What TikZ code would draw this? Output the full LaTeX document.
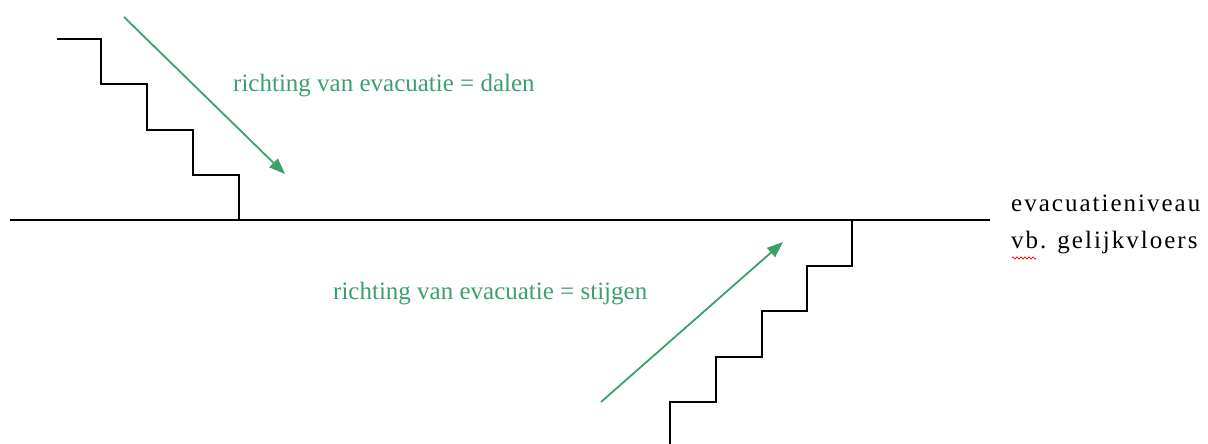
\documentclass[tikz,border=0pt]{standalone}
\usepackage{fontspec}
\setmainfont{Liberation Serif}
\newfontfamily\spacedfnt[LetterSpace=8]{Liberation Serif}
\usetikzlibrary{arrows.meta,decorations.pathmorphing}
\definecolor{evgreen}{RGB}{60,160,110}
\tikzset{
  stair/.style={line width=1.6pt,black,line join=miter},
  evarrow/.style={line width=1.8pt,evgreen,-{Triangle[length=16pt,width=12pt]}},
  evlabel/.style={text=evgreen,font=\fontsize{25}{30}\selectfont,inner sep=0pt,anchor=west},
  levellabel/.style={font=\spacedfnt\fontsize{25}{40}\selectfont,inner sep=0pt,anchor=west,align=left}
}
\begin{document}
\begin{tikzpicture}[x=1pt,y=-1pt]
\useasboundingbox (0,0) rectangle (1208,444);
% ground level
\coordinate (gl) at (10,220);
\coordinate (gr) at (990,220);
\draw[stair] (gl) -- (gr);
% top stair (descending)
\coordinate (t0) at (57,39);
\coordinate (t9) at (239,220);
\draw[stair] (t0) -- (101,39) -- (101,84) -- (147,84) -- (147,130) -- (193,130) -- (193,175) -- (239,175) -- (t9);
% bottom stair (ascending)
\coordinate (b0) at (852,220);
\coordinate (b9) at (670,444);
\draw[stair] (b0) -- (852,266) -- (807,266) -- (807,311) -- (762,311) -- (762,357) -- (716,357) -- (716,402) -- (670,402) -- (b9);
% arrows
\coordinate (a1s) at (124,17);
\coordinate (a1e) at (285,174);
\draw[evarrow] (a1s) -- (a1e);
\coordinate (a2s) at (601,402);
\coordinate (a2e) at (783,242);
\draw[evarrow] (a2s) -- (a2e);
% labels
\node[evlabel] (dalen) at (233,86) {richting van evacuatie = dalen};
\node[evlabel] (stijgen) at (333,294) {richting van evacuatie = stijgen};
\node[levellabel] (niveau) at (1011,203) {evacuatieniveau};
\node[levellabel] (vb) at (1011,243) {vb. gelijkvloers};
\coordinate (w0) at (1012,258);
\coordinate (w1) at (1036,258);
\draw[red,line width=0.7pt,decorate,decoration={zigzag,segment length=4pt,amplitude=1.2pt}] (w0) -- (w1);
\end{tikzpicture}
\end{document}
